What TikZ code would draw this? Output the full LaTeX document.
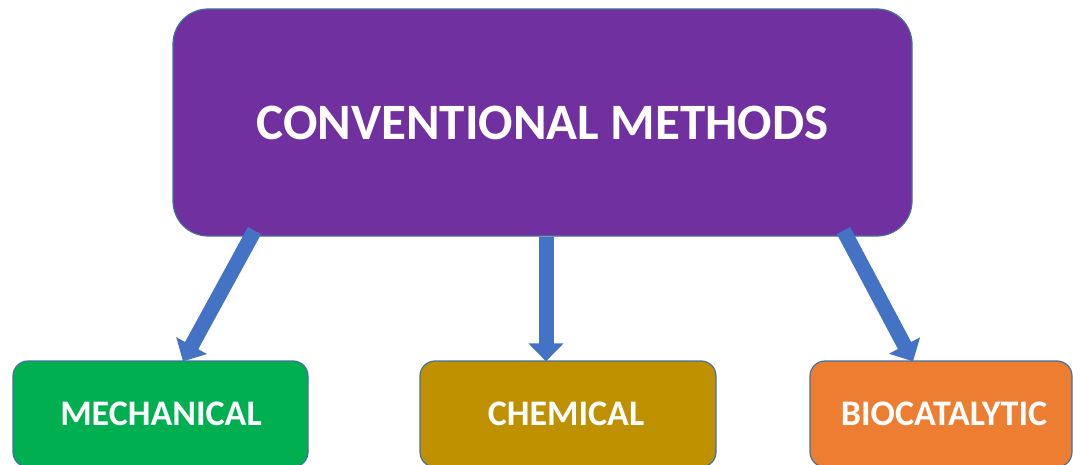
\documentclass[tikz,border=0pt]{standalone}
\usepackage{fontspec}
\setmainfont{Carlito}
\usetikzlibrary{arrows.meta}
\definecolor{cpurple}{HTML}{7030A0}
\definecolor{cgreen}{HTML}{00B050}
\definecolor{cgold}{HTML}{BF9000}
\definecolor{corange}{HTML}{ED7D31}
\definecolor{carrow}{HTML}{4472C4}
\definecolor{cedge}{HTML}{41719C}
\tikzset{
  box/.style={draw=cedge, line width=1.2pt, rounded corners=15pt, inner sep=0pt,
    minimum height=106pt},
  lbl/.style={text=white, inner sep=0pt, font=\bfseries\fontsize{36}{40}\selectfont},
  topbox/.style={draw=cedge, line width=1.2pt, fill=cpurple, rounded corners=35pt, inner sep=0pt,
    minimum width=739pt, minimum height=227pt, text=white,
    font=\bfseries\fontsize{51}{58}\selectfont},
  conn/.style={carrow, line width=15pt, -{Triangle[width=34pt,length=18pt]}}
}
\begin{document}
\begin{tikzpicture}[x=1pt,y=-1pt]
\useasboundingbox (0,0) rectangle (1073,465);
\node[topbox] (top) at (542.5,122.5) {CONVENTIONAL METHODS};
\node[box, fill=cgreen, minimum width=295pt] (mech) at (160.5,414) {};
\node[lbl] (mecht) at (161,414) {MECHANICAL};
\node[box, fill=cgold, minimum width=296pt] (chem) at (568,414) {};
\node[lbl] (chemt) at (566,414) {CHEMICAL};
\node[box, fill=corange, minimum width=262pt] (bio) at (941,414) {};
\node[lbl] (biot) at (944,414) {BIOCATALYTIC};
\draw[conn] ([xshift=-288pt,yshift=6pt]top.south) -- ([xshift=22.5pt,yshift=-1pt]mech.north);
\draw[conn] ([xshift=3.5pt]top.south) -- ([xshift=-22pt,yshift=-1pt]chem.north);
\draw[conn] ([xshift=301pt,yshift=6pt]top.south) -- ([xshift=-28pt,yshift=-1pt]bio.north);
\end{tikzpicture}
\end{document}
